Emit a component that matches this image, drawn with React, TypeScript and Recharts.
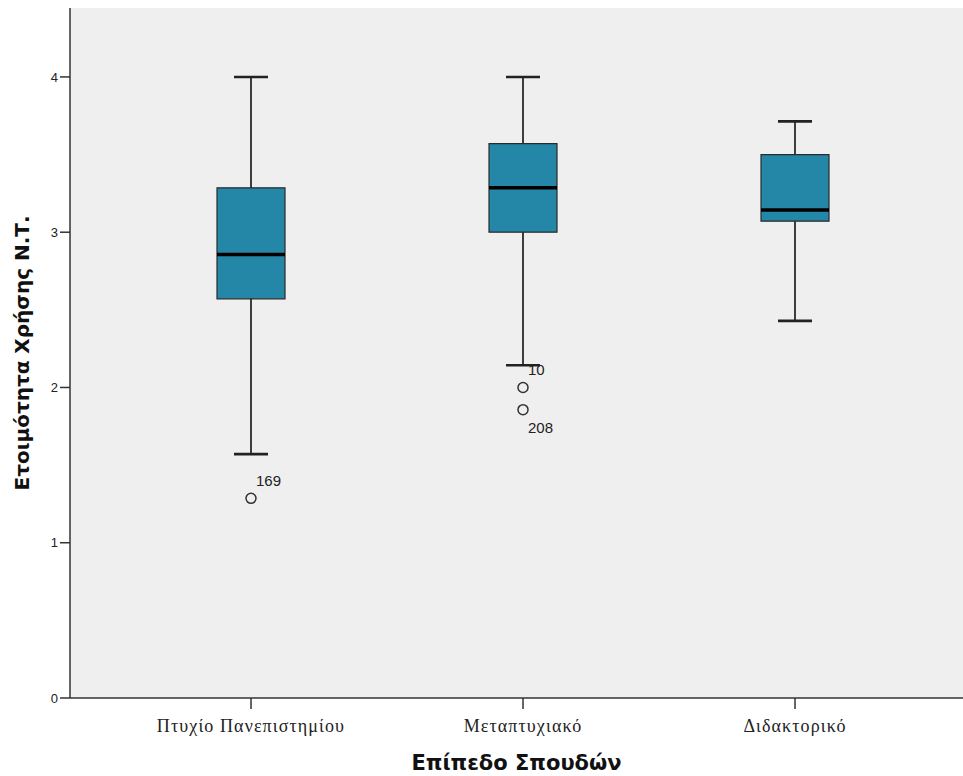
import {
  ComposedChart,
  Bar,
  Scatter,
  XAxis,
  YAxis,
  CartesianGrid,
} from "recharts";

// study levels on the x axis
const levels = ["Πτυχίο Πανεπιστημίου", "Μεταπτυχιακό", "Διδακτορικό"];

// five-number summaries per level
const whiskerLow = [1.571, 2.143, 2.429];
const q1 = [2.571, 3.0, 3.071];
const median = [2.857, 3.286, 3.143];
const q3 = [3.286, 3.571, 3.5];
const whiskerHigh = [4.0, 4.0, 3.714];

// outlying cases
const outlierLevel = ["Πτυχίο Πανεπιστημίου", "Μεταπτυχιακό", "Μεταπτυχιακό"];
const outlierValue = [1.286, 2.0, 1.857];
const outlierCase = ["169", "10", "208"];

const yTicks = [0, 1, 2, 3, 4];

const rows = levels.map((name, i) => ({
  name,
  whisker: [whiskerLow[i], whiskerHigh[i]],
  box: [q1[i], q3[i]],
  median: median[i],
}));

const outliers = outlierLevel.map((name, i) => ({
  name,
  value: outlierValue[i],
  id: outlierCase[i],
}));

// case ids whose label sits under the circle
const labelBelow = new Set(["208"]);

const BOX_W = 68;
const CAP_W = 34;
const PAD = { left: 45, right: 32 };
const SANS = "Liberation Sans, Arial, sans-serif";
const TITLE = "DejaVu Sans, Verdana, sans-serif";

function Whisker(props: any) {
  const { x, y, width, height } = props;
  const cx = x + width / 2;
  return (
    <g>
      <line x1={cx} x2={cx} y1={y} y2={y + height} stroke="#111" strokeWidth={1.6} />
      <line x1={x} x2={x + width} y1={y} y2={y} stroke="#222" strokeWidth={2.6} />
      <line x1={x} x2={x + width} y1={y + height} y2={y + height} stroke="#222" strokeWidth={2.6} />
    </g>
  );
}

function MedianLine(props: any) {
  const { cx, cy } = props;
  return <line x1={cx - BOX_W / 2} x2={cx + BOX_W / 2} y1={cy} y2={cy} stroke="#000" strokeWidth={3.5} />;
}

function OutlierDot(props: any) {
  const { cx, cy, payload } = props;
  const below = labelBelow.has(payload.id);
  return (
    <g>
      <circle cx={cx} cy={cy} r={5} fill="none" stroke="#333" strokeWidth={1.5} />
      <text x={cx + 5} y={below ? cy + 23 : cy - 12} fontFamily={SANS} fontSize={15} fill="#222">
        {payload.id}
      </text>
    </g>
  );
}

export default function App() {
  return (
    <div style={{ position: "absolute", left: 0, top: 0 }}>
      <ComposedChart
        width={963}
        height={776}
        data={rows}
        margin={{ top: 8, right: 0, bottom: 0, left: 0 }}
      >
        <CartesianGrid fill="#efefef" horizontal={false} vertical={false} />
        <XAxis
          xAxisId="top"
          orientation="top"
          dataKey="name"
          height={0}
          tick={false}
          tickLine={false}
          axisLine={{ stroke: "#888", strokeWidth: 2.5 }}
        />
        <XAxis
          xAxisId="main"
          dataKey="name"
          allowDuplicatedCategory={false}
          padding={PAD}
          height={78}
          tickSize={11}
          tickMargin={10}
          axisLine={{ stroke: "#333", strokeWidth: 1.5 }}
          tickLine={{ stroke: "#333", strokeWidth: 1.5 }}
          tick={{ fontFamily: "Liberation Serif, serif", fontSize: 18, fill: "#222", letterSpacing: 1.1 }}
          label={{
            value: "Επίπεδο Σπουδών",
            position: "insideBottom",
            offset: 6,
            style: { fontFamily: TITLE, fontSize: 21, fontWeight: "bold", fill: "#111" },
          }}
        />
        <XAxis xAxisId="whisker" dataKey="name" padding={PAD} height={0} hide />
        <XAxis xAxisId="box" dataKey="name" padding={PAD} height={0} hide />
        <YAxis
          domain={[0, 4.444]}
          ticks={yTicks}
          width={70}
          tickSize={10}
          tickMargin={2}
          axisLine={{ stroke: "#333", strokeWidth: 1.5 }}
          tickLine={{ stroke: "#333", strokeWidth: 1.5 }}
          tick={{ fontFamily: SANS, fontSize: 13, fill: "#222" }}
          label={{
            value: "Ετοιμότητα Χρήσης Ν.Τ.",
            angle: -90,
            position: "insideLeft",
            offset: 22,
            style: { textAnchor: "middle", fontFamily: TITLE, fontSize: 20, fontWeight: "bold", fill: "#111" },
          }}
        />
        <Bar
          xAxisId="whisker"
          dataKey="whisker"
          barSize={CAP_W}
          shape={<Whisker />}
          isAnimationActive={false}
        />
        <Bar
          xAxisId="box"
          dataKey="box"
          barSize={BOX_W}
          fill="#2487a8"
          stroke="#2a2a2a"
          strokeWidth={1.2}
          isAnimationActive={false}
        />
        <Scatter xAxisId="main" dataKey="median" shape={<MedianLine />} isAnimationActive={false} />
        <Scatter
          xAxisId="main"
          data={outliers}
          dataKey="value"
          shape={<OutlierDot />}
          isAnimationActive={false}
        />
      </ComposedChart>
    </div>
  );
}
